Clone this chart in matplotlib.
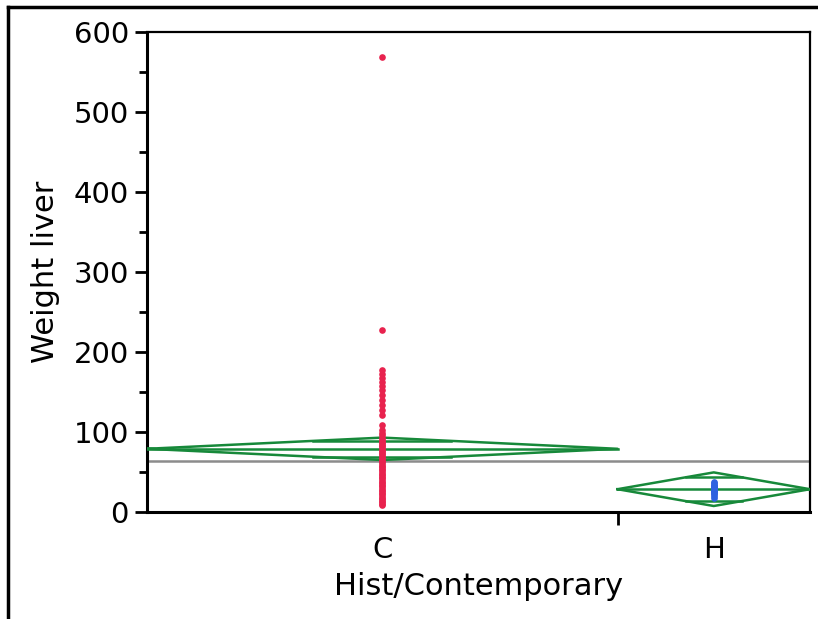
import numpy as np
import matplotlib
matplotlib.use("Agg")
import matplotlib.pyplot as plt
from matplotlib.lines import Line2D

# group info
groups = ["C", "H"]
n_obs = [110, 45]          # group widths follow sample size
group_means = [79, 28.5]
ci_half = [14, 21]
grand_mean = 64

# observed liver weights
weight_C = [569, 227, 177, 173, 168, 163, 157, 152, 146, 140, 134, 128, 121,
            109, 102, 99, 96, 93, 90, 88, 86, 84, 82, 80, 78, 76, 74, 72, 70,
            68, 66, 64, 62, 60, 58, 56, 54, 52, 50, 48, 46, 44, 42, 40, 38,
            36, 34, 32, 30, 28, 26, 24, 22, 20, 18, 16, 14, 12, 10, 9]
weight_H = [18, 20, 22, 24, 25, 26, 27, 28, 29, 30, 31, 32, 33, 34, 36, 38]

point_colors = ["#E8224E", "#2E62E0"]
green = "#17893A"

fig = plt.figure(figsize=(8.18, 6.19), dpi=100)
ax = fig.add_axes([147/818, 1 - 512/619, (810-147)/818, (512-32)/619])

edges = np.concatenate([[0], np.cumsum(n_obs)])
centers = (edges[:-1] + edges[1:]) / 2

# mean diamonds
for i in range(len(groups)):
    x0, x1, xc = edges[i], edges[i+1], centers[i]
    m, h = group_means[i], ci_half[i]
    ax.plot([x0, xc, x1, xc, x0], [m, m + h, m, m - h, m], color=green, lw=1.8, zorder=3)
    ax.plot([x0, x1], [m, m], color=green, lw=1.8, zorder=3)
    # overlap marks
    d = h * np.sqrt(2) / 2
    frac = 1 - d / h
    hw = (x1 - x0) / 2 * frac
    for s in (1, -1):
        ax.plot([xc - hw, xc + hw], [m + s*d, m + s*d], color=green, lw=1.8, zorder=3)

ax.axhline(grand_mean, color="#8c8c8c", lw=1.8, zorder=2)

ax.plot([centers[0]] * len(weight_C), weight_C, "o", color=point_colors[0], ms=4.8, mew=0, zorder=4)
ax.plot([centers[1]] * len(weight_H), weight_H, "o", color=point_colors[1], ms=4.8, mew=0, zorder=4)

ax.set_xlim(edges[0], edges[-1])
ax.set_ylim(0, 600)
ax.set_yticks(np.arange(0, 601, 100))
ax.set_yticks(np.arange(50, 600, 100), minor=True)
ax.set_xticks(centers)
ax.set_xticklabels(groups)
ax.set_xticks(edges[1:-1], minor=True)
ax.tick_params(axis="x", which="major", length=0, pad=17, labelsize=21)
ax.tick_params(axis="x", which="minor", length=9, width=2)
ax.tick_params(axis="y", which="major", length=9, width=2, labelsize=21, pad=4)
ax.tick_params(axis="y", which="minor", length=6, width=2)

for side in ["left", "bottom"]:
    ax.spines[side].set_linewidth(2.2)
for side in ["top", "right"]:
    ax.spines[side].set_linewidth(1.6)

ax.set_xlabel("Hist/Contemporary", fontsize=22, labelpad=6)
ax.set_ylabel("Weight liver", fontsize=22, labelpad=10)

# outer frame
fig.add_artist(Line2D([8/818, 8/818], [0, 1 - 7/619], color="black", lw=2.5))
fig.add_artist(Line2D([8/818, 1], [1 - 7/619, 1 - 7/619], color="black", lw=2.5))

fig.savefig("out.png", dpi=100)
